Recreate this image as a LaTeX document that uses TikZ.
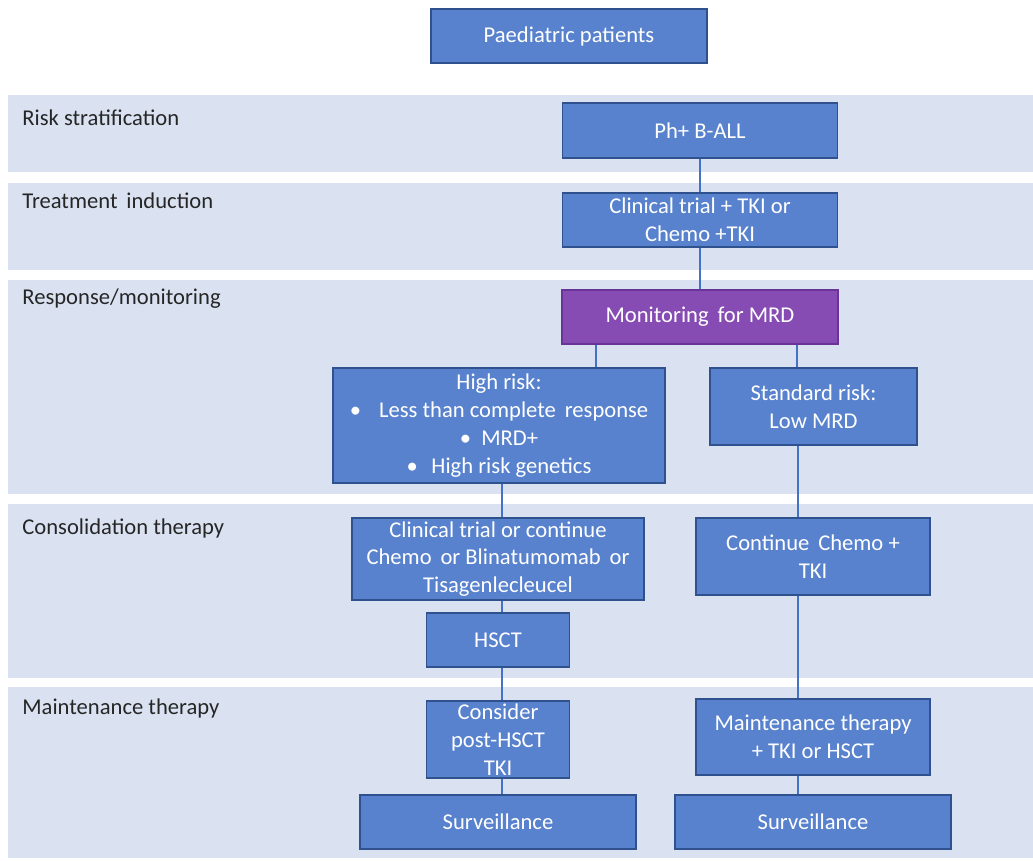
\documentclass[tikz,border=0pt]{standalone}
\usepackage{fontspec}
\setmainfont{Carlito}
\definecolor{boxblue}{RGB}{88,130,205}
\definecolor{boxedge}{RGB}{47,82,143}
\definecolor{mrdfill}{RGB}{134,76,180}
\definecolor{mrdedge}{RGB}{104,52,150}
\definecolor{bandfill}{RGB}{218,226,242}
\definecolor{linkblue}{RGB}{68,114,196}
\definecolor{phasetext}{RGB}{38,38,38}
\begin{document}
\begin{tikzpicture}[x=0.5pt, y=-0.5pt]
    \tikzstyle{box}=[draw=boxedge, line width=0.8pt, fill=boxblue, text=white, align=center, inner sep=0pt, font=\fontsize{11.3}{13.9}\selectfont]
    \tikzstyle{mrdbox}=[box, draw=mrdedge, fill=mrdfill]
    \tikzstyle{band}=[fill=bandfill, draw=none]
    \tikzstyle{phase}=[anchor=west, inner sep=0pt, text=phasetext, font=\fontsize{11.3}{13.9}\selectfont]
    \tikzstyle{link}=[draw=linkblue, line width=0.75pt]

    \useasboundingbox (0,0) rectangle (1033,861);

    % phase bands
    \fill[band] (8,95) rectangle (1033,172);
    \fill[band] (8,183) rectangle (1033,270);
    \fill[band] (8,280) rectangle (1033,494);
    \fill[band] (8,504) rectangle (1033,678);
    \fill[band] (8,687) rectangle (1033,858);

    \node[phase] (prisk) at (22,118) {Risk stratification};
    \node[phase] (pinduct) at (22,201) {Treatment\, induction};
    \node[phase] (presp) at (22,299) {Response/monitoring};
    \node[phase] (pconsol) at (22,528) {Consolidation therapy};
    \node[phase] (pmaint) at (22,708) {Maintenance therapy};

    \node[box, minimum width=138pt, minimum height=27pt] (pat) at (569,36) {Paediatric patients};
    \node[box, minimum width=137.5pt, minimum height=27.5pt] (phall) at (700,130.5) {Ph+ B-ALL};
    \node[box, minimum width=137.5pt, minimum height=27pt, below of=phall, node distance=44.75pt] (induct) {Clinical trial + TKI or\\ Chemo +TKI};
    \node[mrdbox, minimum width=138pt, minimum height=27pt, below of=induct, node distance=48.5pt] (mrd) {Monitoring\, for MRD};

    \node[box, minimum width=166pt, minimum height=57.5pt] (high) at (499,425.5) {High risk:\\ \textbullet\hspace{0.8em}Less than complete\, response\\ \textbullet\hspace{0.45em}MRD+\\ \textbullet\hspace{0.6em}High risk genetics};
    \node[box, minimum width=103.5pt, minimum height=38.5pt] (std) at (813.5,406.5) {Standard risk:\\ Low MRD};

    \node[box, minimum width=146pt, minimum height=41pt] (consol) at (498,559) {Clinical trial or continue\\ Chemo\, or Blinatumomab\, or\\ Tisagenlecleucel};
    \node[box, minimum width=71.5pt, minimum height=27pt, below of=consol, node distance=40.5pt] (hsct) {HSCT};
    \node[box, minimum width=71.5pt, minimum height=38.5pt, below of=hsct, node distance=49.75pt] (consid) {Consider\\ post-HSCT\\ TKI};
    \node[box, minimum width=138pt, minimum height=27pt, below of=consid, node distance=41.25pt] (survl) {Surveillance};

    \node[box, minimum width=117pt, minimum height=38.5pt] (contin) at (813,556.5) {Continue\, Chemo +\\ TKI};
    \node[box, minimum width=117pt, minimum height=38pt, below of=contin, node distance=90.25pt] (maint) {Maintenance therapy\\ + TKI or HSCT};
    \node[box, minimum width=138pt, minimum height=27pt, below of=maint, node distance=42.5pt] (survr) {Surveillance};

    % connector columns
    \coordinate (xhigh) at (596,0);
    \coordinate (xstd) at (797,0);
    \coordinate (lcol) at (502,0);
    \coordinate (rcol) at (798,0);

    \draw[link] (phall) -- (induct);
    \draw[link] (induct) -- (mrd);
    \draw[link] (mrd.south -| xhigh) -- (high.north -| xhigh);
    \draw[link] (mrd.south -| xstd) -- (std.north -| xstd);
    \draw[link] (high.south -| lcol) -- (consol.north -| lcol);
    \draw[link] (consol.south -| lcol) -- (hsct.north -| lcol);
    \draw[link] (hsct.south -| lcol) -- (consid.north -| lcol);
    \draw[link] (consid.south -| lcol) -- (survl.north -| lcol);
    \draw[link] (std.south -| rcol) -- (contin.north -| rcol);
    \draw[link] (contin.south -| rcol) -- (maint.north -| rcol);
    \draw[link] (maint.south -| rcol) -- (survr.north -| rcol);
  \end{tikzpicture}
\end{document}
